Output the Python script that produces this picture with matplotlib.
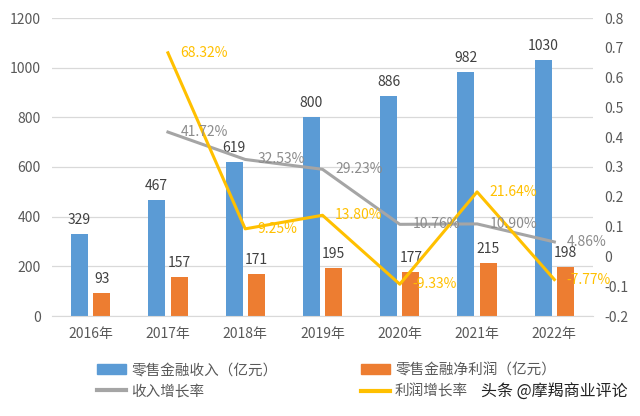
import matplotlib.pyplot as plt
import numpy as np
from matplotlib.patches import Patch
from matplotlib.lines import Line2D

plt.rcParams['font.family'] = ['Noto Sans CJK SC', 'DejaVu Sans']

years = ["2016年", "2017年", "2018年", "2019年", "2020年", "2021年", "2022年"]
revenue = [329, 467, 619, 800, 886, 982, 1030]
profit = [93, 157, 171, 195, 177, 215, 198]
rev_growth = [None, 0.4172, 0.3253, 0.2923, 0.1076, 0.1090, 0.0486]
profit_growth = [None, 0.6832, 0.0925, 0.1380, -0.0933, 0.2164, -0.0777]

blue = "#5B9BD5"
orange = "#ED7D31"
grey = "#A5A5A5"
yellow = "#FFC000"
txt = "#595959"
fs = 10

fig = plt.figure(figsize=(6.4, 4.16), dpi=100)
ax = fig.add_axes([52 / 640, 100 / 416, 541 / 640, 298 / 416])
x = np.arange(len(years))
w = 0.22
off = 0.145

ax.bar(x - off, revenue, w, color=blue, zorder=2)
ax.bar(x + off, profit, w, color=orange, zorder=2)
for xi, v in zip(x, revenue):
    ax.annotate(str(v), (xi - off, v), xytext=(0, 5), textcoords="offset points",
                ha="center", va="bottom", fontsize=fs, color="#404040", zorder=5)
for xi, v in zip(x, profit):
    ax.annotate(str(v), (xi + off, v), xytext=(0, 5), textcoords="offset points",
                ha="center", va="bottom", fontsize=fs, color="#404040", zorder=5)

ax.set_xlim(-0.5, len(years) - 0.5)
ax.set_ylim(0, 1200)
ax.set_yticks(range(0, 1201, 200))
ax.set_xticks(x)
ax.set_xticklabels(years)
ax.grid(axis="y", color="#D9D9D9", linewidth=0.9, zorder=0)
ax.set_axisbelow(True)
for s in ["top", "right", "left"]:
    ax.spines[s].set_visible(False)
ax.spines["bottom"].set_color("#D9D9D9")
ax.tick_params(length=0, labelsize=fs, colors=txt, pad=8)

ax2 = ax.twinx()
ax2.set_ylim(-0.2, 0.8)
ax2.set_yticks(np.round(np.arange(-0.2, 0.81, 0.1), 1))
ax2.set_yticklabels(["-0.2", "-0.1", "0", "0.1", "0.2", "0.3", "0.4", "0.5", "0.6", "0.7", "0.8"])
for s in ax2.spines.values():
    s.set_visible(False)
ax2.tick_params(length=0, labelsize=fs, colors=txt, pad=8)

xs = x[1:]
rg = rev_growth[1:]
pg = profit_growth[1:]
ax2.plot(xs, rg, color=grey, linewidth=2.2, zorder=3)
ax2.plot(xs, pg, color=yellow, linewidth=2.2, zorder=4)
for xi, v in zip(xs, rg):
    ax2.annotate(f"{v * 100:.2f}%", (xi, v), xytext=(9, 0), textcoords="offset points",
                 ha="left", va="center", fontsize=fs, color="#8C8C8C", zorder=6)
for xi, v in zip(xs, pg):
    ax2.annotate(f"{v * 100:.2f}%", (xi, v), xytext=(9, 0), textcoords="offset points",
                 ha="left", va="center", fontsize=fs, color=yellow, zorder=6)

# ncol=2 fills column by column, so order is blue, grey | orange, yellow
handles = [Patch(color=blue), Line2D([], [], color=grey, linewidth=3),
           Patch(color=orange), Line2D([], [], color=yellow, linewidth=3)]
labels = ["零售金融收入（亿元）", "收入增长率", "零售金融净利润（亿元）", "利润增长率"]
fig.legend(handles, labels, loc="upper left", bbox_to_anchor=(84 / 640, 1 - 350 / 416),
           ncol=2, frameon=False, fontsize=10.5, handlelength=2.0, handletextpad=0.35,
           columnspacing=5.7, labelspacing=0.5, labelcolor=txt)

fig.text(628 / 640, 1 - 392 / 416, "头条 @摩羯商业评论", ha="right", va="center",
         fontsize=11.5, color="#222222", fontweight="medium")

fig.savefig("out.png", dpi=100)
